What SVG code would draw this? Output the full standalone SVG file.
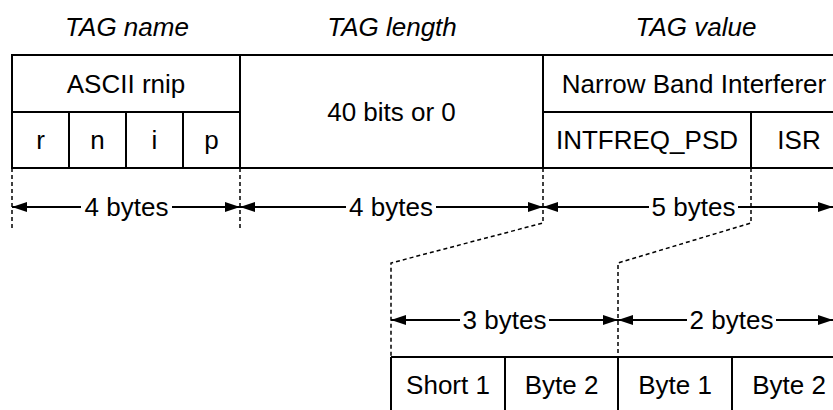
<svg xmlns="http://www.w3.org/2000/svg" width="833" height="410" viewBox="0 0 833 410">
<style>
text{font-family:"Liberation Sans",Arial,sans-serif;font-size:26px;fill:#000;text-anchor:middle}
.h{font-style:italic}
.b{stroke:#000;stroke-width:2;fill:none}
.d{stroke:#000;stroke-width:1.5;fill:none;stroke-dasharray:4 3}
.a{stroke:#000;stroke-width:2;fill:none;marker-end:url(#ah)}
</style>
<defs>
<marker id="ah" markerUnits="userSpaceOnUse" markerWidth="16" markerHeight="10" refX="15" refY="5" orient="auto">
<path d="M0,0 L15,5 L0,10 z" fill="#000"/>
</marker>
</defs>
<rect width="833" height="410" fill="#fff"/>
<g id="headers">
<text class="h" x="127" y="36">TAG name</text>
<text class="h" x="392" y="36">TAG length</text>
<text class="h" x="696" y="36">TAG value</text>
</g>
<g id="tag-name">
<rect class="b" x="12" y="55" width="228" height="113"/>
<line class="b" x1="12" y1="112" x2="240" y2="112"/>
<line class="b" x1="69" y1="112" x2="69" y2="168"/>
<line class="b" x1="126" y1="112" x2="126" y2="168"/>
<line class="b" x1="183" y1="112" x2="183" y2="168"/>
<text x="126" y="93">ASCII rnip</text>
<text x="40.5" y="149">r</text>
<text x="97.5" y="149">n</text>
<text x="154.5" y="149">i</text>
<text x="211.5" y="149">p</text>
</g>
<g id="tag-length">
<rect class="b" x="240" y="55" width="303" height="113"/>
<text x="391.5" y="121">40 bits or 0</text>
</g>
<g id="tag-value">
<path class="b" d="M543,55 H840 M543,112 H840 M543,168 H840 M543,55 V168 M751,112 V168"/>
<text x="694" y="93">Narrow Band Interferer</text>
<text x="647" y="149">INTFREQ_PSD</text>
<text x="799" y="149">ISR</text>
</g>
<g id="bytes-table">
<path class="b" d="M391,357 H840 M391,357 V412 M505,357 V412 M618,357 V412 M732,357 V412"/>
<text x="448" y="394">Short 1</text>
<text x="561.5" y="394">Byte 2</text>
<text x="675" y="394">Byte 1</text>
<text x="789" y="394">Byte 2</text>
</g>
<g id="connectors">
<path class="d" d="M12,168 V230 M240,168 V230"/>
<path class="d" d="M543,168 V223 L391,263 V357"/>
<path class="d" d="M751,168 V223 L618,263 V357"/>
<line class="a" x1="81" y1="207" x2="12" y2="207"/>
<line class="a" x1="172" y1="207" x2="240" y2="207"/>
<line class="a" x1="346" y1="207" x2="240" y2="207"/>
<line class="a" x1="436" y1="207" x2="543" y2="207"/>
<line class="a" x1="649" y1="207" x2="543" y2="207"/>
<line class="a" x1="738" y1="207" x2="833" y2="207"/>
<line class="a" x1="460" y1="320" x2="391" y2="320"/>
<line class="a" x1="549" y1="320" x2="618" y2="320"/>
<line class="a" x1="687" y1="320" x2="618" y2="320"/>
<line class="a" x1="776" y1="320" x2="833" y2="320"/>
<text x="126.5" y="216">4 bytes</text>
<text x="391" y="216">4 bytes</text>
<text x="693.5" y="216">5 bytes</text>
<text x="504.5" y="329">3 bytes</text>
<text x="731.5" y="329">2 bytes</text>
</g>
</svg>
